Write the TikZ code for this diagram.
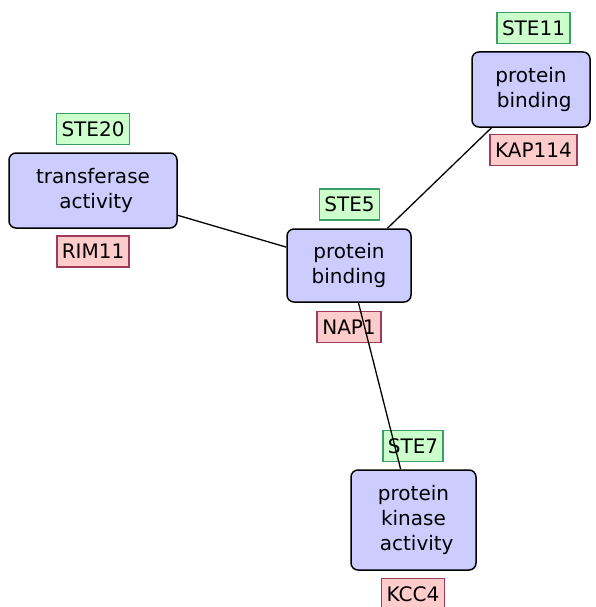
\documentclass[tikz,border=0pt]{standalone}
\usepackage{fontspec}
\setmainfont{DejaVu Sans}
\begin{document}
\begin{tikzpicture}[x=1pt,y=-1pt,
  fnt/.style={font=\fontsize{20}{25}\selectfont},
  gobox/.style={fnt, draw=black, line width=1.5pt, fill=boxblue, rounded corners=7pt, inner sep=0pt, align=center},
  glab/.style={fnt, draw=labgreen, fill=fillgreen, line width=1.6pt, inner xsep=5pt, inner ysep=0pt, minimum height=31pt, text height=14.5pt, text depth=0pt},
  rlab/.style={fnt, draw=labred, fill=fillred, line width=1.6pt, inner xsep=5pt, inner ysep=0pt, minimum height=31pt, text height=14.5pt, text depth=0pt},
  edge/.style={draw=black, line width=1.3pt}]
\definecolor{boxblue}{HTML}{CCCCFF}
\definecolor{labgreen}{HTML}{3A9E66}
\definecolor{fillgreen}{HTML}{CCFFCC}
\definecolor{labred}{HTML}{A03A5A}
\definecolor{fillred}{HTML}{FFCCCC}
\useasboundingbox (0,0) rectangle (596,607);
% labels
\node[glab] (l20) at (93,129) {STE20};
\node[rlab] (lrim) at (93,251.5) {RIM11};
\node[glab] (l5) at (349.5,204.5) {STE5};
\node[rlab] (lnap) at (349,327) {NAP1};
\node[glab] (l11) at (533.5,28) {STE11};
\node[rlab] (lkap) at (533.5,150) {KAP114};
\node[glab] (l7) at (413,446) {STE7};
\node[rlab] (lkcc) at (413,594) {KCC4};
% boxes
\node[gobox, minimum width=168pt, minimum height=75pt] (tr) at (93,190.5) {transferase\\ \hspace*{0.32em}activity};
\node[gobox, minimum width=124pt, minimum height=73pt] (pb) at (349,265.5) {protein\\binding};
\node[gobox, minimum width=118pt, minimum height=75pt] (pb2) at (531,89.5) {protein\\ \hspace*{0.32em}binding};
\node[gobox, minimum width=125pt, minimum height=100pt] (pk) at (413.5,520) {protein\\kinase\\ \hspace*{0.32em}activity};
% edges
\draw[edge] (tr) -- (pb);
\draw[edge] (pb) -- (pb2);
\draw[edge] (pb) -- (pk);
\end{tikzpicture}
\end{document}
